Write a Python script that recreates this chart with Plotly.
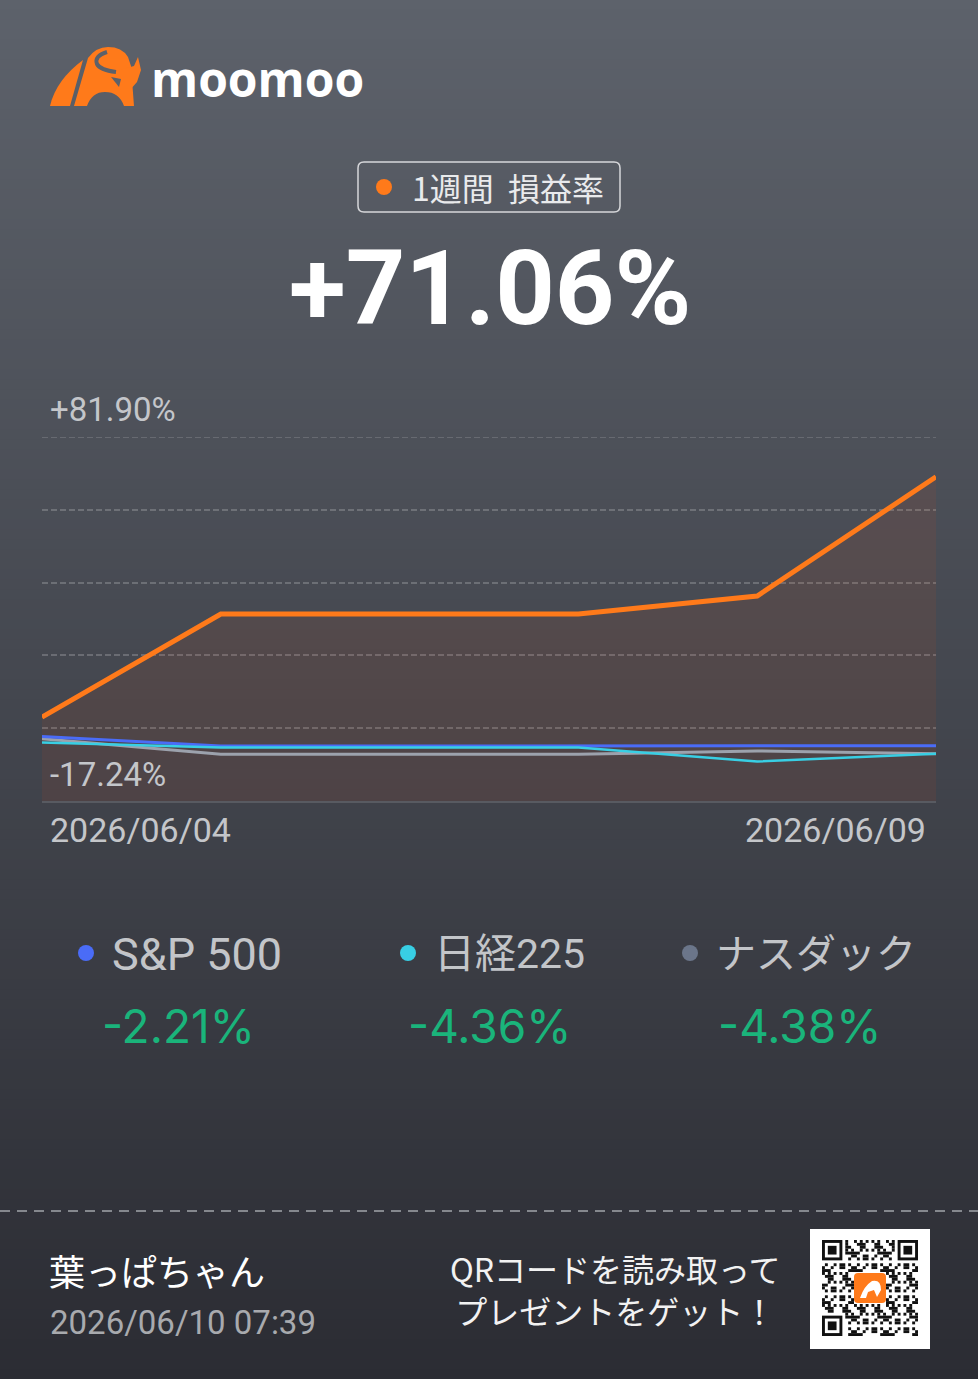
import plotly.graph_objects as go

W, H = 978, 1379

# ---------------- data ----------------
dates = ["2026/06/04", "2026/06/05", "2026/06/06", "2026/06/07", "2026/06/08", "2026/06/09"]
portfolio = [5.6, 33.7, 33.7, 33.7, 38.6, 71.06]
sp500 = [0.3, -2.25, -2.25, -2.25, -2.2, -2.21]
nikkei = [-1.3, -2.7, -2.7, -2.7, -6.5, -4.36]
nasdaq = [-0.3, -4.5, -4.5, -4.5, -3.6, -4.38]
y_max, y_min = 81.90, -17.24
headline = "+71.06%"
bench_names = ["S&P 500", "日経225", "ナスダック"]
bench_values = ["-2.21%", "-4.36%", "-4.38%"]
user_name = "葉っぱちゃん"
stamp = "2026/06/10 07:39"

# ---------------- helpers ----------------
def px(x):
    return x / W

def py(y):
    return 1 - y / H

def path(cmds):
    out = []
    for c in cmds:
        if isinstance(c, str):
            out.append(c)
        else:
            out.append(f"{px(c[0]):.5f},{py(c[1]):.5f}")
    return " ".join(out)

shapes = []
annotations = []

def ann(text, x, y, size, color, family="Roboto, Noto Sans CJK JP", xanchor="left", yanchor="middle", **kw):
    annotations.append(dict(text=text, x=px(x), y=py(y), xref="paper", yref="paper",
                            xanchor=xanchor, yanchor=yanchor, showarrow=False,
                            font=dict(size=size, color=color, family=family), **kw))

def rect(x0, y0, x1, y1, color, layer="below"):
    shapes.append(dict(type="rect", xref="paper", yref="paper", x0=px(x0), x1=px(x1),
                       y0=py(y1), y1=py(y0), fillcolor=color, line=dict(width=0), layer=layer))

def circle(cx, cy, r, color):
    shapes.append(dict(type="circle", xref="paper", yref="paper", x0=px(cx - r), x1=px(cx + r),
                       y0=py(cy + r), y1=py(cy - r), fillcolor=color, line=dict(width=0), layer="above"))

def pshape(cmds, fill=None, line_color=None, lw=0, layer="above"):
    d = dict(type="path", xref="paper", yref="paper", path=path(cmds), layer=layer)
    if fill:
        d["fillcolor"] = fill
    d["line"] = dict(width=lw, color=line_color or "rgba(0,0,0,0)")
    shapes.append(d)

# ---------------- background gradient ----------------
top = (93, 98, 107)
bot = (43, 44, 51)
step = 10
for i in range(0, H, step):
    t = (i + step / 2) / H
    c = tuple(round(top[k] + (bot[k] - top[k]) * t) for k in range(3))
    rect(-2, i - 0.5, W + 2, i + step + 0.5, f"rgb{c}")

# ---------------- logo ----------------
ORANGE = "#ff7a1a"
pshape(["M", (50, 106), "Q", (56, 80), (83, 60), "L", (70, 106), "Z"], fill=ORANGE)
pshape(["M", (74, 106), "L", (88, 58), "Q", (96, 47), (108, 47), "Q", (122, 47), (128, 57),
        "L", (131, 66), "L", (134, 106), "L", (124, 106), "Q", (119, 92), (105, 92),
        "Q", (92, 92), (87, 106), "Z"], fill=ORANGE)
pshape(["M", (108, 73), "L", (134, 66), "L", (138, 57), "L", (141, 70), "L", (137, 82),
        "L", (130, 90), "L", (121, 90), "Z"], fill=ORANGE)
bgtop = "rgb(92,97,106)"
pshape(["M", (107, 52), "Q", (94, 56), (97, 64), "Q", (100, 70), (116, 72)], line_color=bgtop, lw=4)
pshape(["M", (111, 77), "L", (121, 79), "L", (119, 87), "Z"], fill=bgtop)
ann("<b>moomoo</b>", 149, 78, 48, "#ffffff", family="Open Sans", xanchor="left")

# ---------------- title box ----------------
x0, y0, x1, y1, r = 358, 162, 620, 212, 6
pshape(["M", (x0 + r, y0), "L", (x1 - r, y0), "Q", (x1, y0), (x1, y0 + r), "L", (x1, y1 - r),
        "Q", (x1, y1), (x1 - r, y1), "L", (x0 + r, y1), "Q", (x0, y1), (x0, y1 - r),
        "L", (x0, y0 + r), "Q", (x0, y0), (x0 + r, y0), "Z"],
       line_color="#d6d7da", lw=1.5)
circle(384, 187, 8, ORANGE)
ann("1週間&nbsp;&nbsp;損益率", 410, 187, 32, "#e9eaec", family="Noto Sans CJK JP", xanchor="left")
ann(f"<b>{headline}</b>", 490, 289, 104, "#ffffff", family="Roboto", xanchor="center")

# ---------------- chart ----------------
fig = go.Figure()
fig.add_trace(go.Scatter(x=dates, y=[y_min] * len(dates), mode="lines",
                         line=dict(width=0), hoverinfo="skip", showlegend=False))
fig.add_trace(go.Scatter(x=dates, y=portfolio, mode="lines", fill="tonexty",
                         fillcolor="rgba(240,80,10,0.08)",
                         line=dict(color=ORANGE, width=5), showlegend=False))
fig.add_trace(go.Scatter(x=dates, y=nasdaq, mode="lines", line=dict(color="#9ca2ad", width=3), showlegend=False))
fig.add_trace(go.Scatter(x=dates, y=sp500, mode="lines", line=dict(color="#4a6cf7", width=3), showlegend=False))
fig.add_trace(go.Scatter(x=dates, y=nikkei, mode="lines", line=dict(color="#38cfe4", width=2.5), showlegend=False))

grid_vals = [y_max - k * (y_max - y_min) / 5 for k in range(1, 5)]
# top grid line (at the range edge plotly omits it)
shapes.append(dict(type="line", xref="x domain", yref="y", x0=0, x1=1, y0=y_max, y1=y_max,
                   line=dict(color="rgba(255,255,255,0.2)", width=1.5, dash="6px,3px"), layer="below"))

# axis labels as annotations in axis coordinates
annotations.append(dict(text=f"+{y_max:.2f}%", x=px(48), xref="paper", y=y_max, yref="y",
                        yshift=27, xanchor="left", yanchor="middle", showarrow=False,
                        font=dict(size=33, color="#c4c6ca", family="Roboto")))
annotations.append(dict(text=f"{y_min:.2f}%", x=px(48), xref="paper", y=y_min, yref="y",
                        yshift=26, xanchor="left", yanchor="middle", showarrow=False,
                        font=dict(size=33, color="#c4c6ca", family="Roboto")))
annotations.append(dict(text=dates[0], x=dates[0], xref="x", y=y_min, yref="y",
                        yshift=-29, xshift=6, xanchor="left", yanchor="middle", showarrow=False,
                        font=dict(size=34, color="#c4c6ca", family="Roboto")))
annotations.append(dict(text=dates[-1], x=dates[-1], xref="x", y=y_min, yref="y",
                        yshift=-29, xshift=-8, xanchor="right", yanchor="middle", showarrow=False,
                        font=dict(size=34, color="#c4c6ca", family="Roboto")))

# ---------------- benchmark legend ----------------
dot_cols = ["#4a6cf7", "#38cfe4", "#6b768a"]
label_left = [110, 432, 714]
label_size = [45, 41, 40]
value_centers = [178, 489, 799]
for i in range(3):
    circle(label_left[i] - 24, 953, 8, dot_cols[i])
    ann(bench_names[i], label_left[i], 954, label_size[i], "#c3c5c9",
        family="Roboto, Noto Sans CJK JP", xanchor="left")
    ann(bench_values[i], value_centers[i], 1026, 46, "#1ab47b", family="Inter", xanchor="center")

# ---------------- footer ----------------
shapes.append(dict(type="line", xref="paper", yref="paper", x0=0, x1=1, y0=py(1211), y1=py(1211),
                   line=dict(color="#85888e", width=2, dash="10px,7px"), layer="above"))
ann(user_name, 47, 1270, 36, "#ffffff", family="Noto Sans CJK JP", xanchor="left")
ann(stamp, 48, 1322, 33, "#a8aaae", family="Roboto", xanchor="left")
ann("QRコードを読み取って<br>プレゼントをゲット！", 615, 1289, 32, "#f2f2f2",
    family="Noto Sans CJK JP", xanchor="center", align="center")

# QR code decoration
rect(810, 1229, 930, 1349, "#ffffff", layer="above")
N = 33
q0x, q0y, m = 822, 1240, 96 / 33

def in_finder(r, c):
    for fr, fc in ((0, 0), (0, N - 7), (N - 7, 0)):
        if fr - 1 <= r <= fr + 7 and fc - 1 <= c <= fc + 7:
            return True
    return False

for r in range(N):
    run = None
    for c in range(N + 1):
        on = False
        if c < N and not in_finder(r, c) and not (11 <= r <= 21 and 11 <= c <= 21):
            on = ((r * 31 + c * 17 + r * c * 7) % 11) < 5
        if on and run is None:
            run = c
        if not on and run is not None:
            rect(q0x + run * m, q0y + r * m, q0x + c * m, q0y + (r + 1) * m, "#111111", layer="above")
            run = None
for fr, fc in ((0, 0), (0, N - 7), (N - 7, 0)):
    bx, by = q0x + fc * m, q0y + fr * m
    rect(bx, by, bx + 7 * m, by + 7 * m, "#111111", layer="above")
    rect(bx + m, by + m, bx + 6 * m, by + 6 * m, "#ffffff", layer="above")
    rect(bx + 2 * m, by + 2 * m, bx + 5 * m, by + 5 * m, "#111111", layer="above")
pshape(["M", (858, 1273), "L", (882, 1273), "Q", (886, 1273), (886, 1277), "L", (886, 1299),
        "Q", (886, 1303), (882, 1303), "L", (858, 1303), "Q", (854, 1303), (854, 1299),
        "L", (854, 1277), "Q", (854, 1273), (858, 1273), "Z"], fill=ORANGE)
pshape(["M", (860, 1298), "Q", (864, 1286), (872, 1281), "Q", (881, 1279), (881, 1290), "L", (877, 1297),
        "L", (874, 1290), "L", (868, 1292), "L", (866, 1298), "Z"], fill="#ffffff")

fig.update_layout(
    width=W, height=H,
    margin=dict(l=0, r=0, t=0, b=0),
    paper_bgcolor="#3c3f46",
    plot_bgcolor="rgba(0,0,0,0)",
    shapes=shapes,
    annotations=annotations,
    showlegend=False,
    xaxis=dict(domain=[px(42), px(936)], type="category", range=[0, len(dates) - 1],
               showgrid=False, showticklabels=False, ticks="", zeroline=False,
               showline=True, linecolor="rgba(255,255,255,0.13)", linewidth=2, fixedrange=True),
    yaxis=dict(domain=[py(801), py(437)], range=[y_min, y_max], tickvals=grid_vals,
               showticklabels=False, ticks="", zeroline=False, showline=False,
               showgrid=True, gridcolor="rgba(255,255,255,0.2)", gridwidth=1.5,
               griddash="6px,3px", fixedrange=True),
)

fig.write_html("out.html")
